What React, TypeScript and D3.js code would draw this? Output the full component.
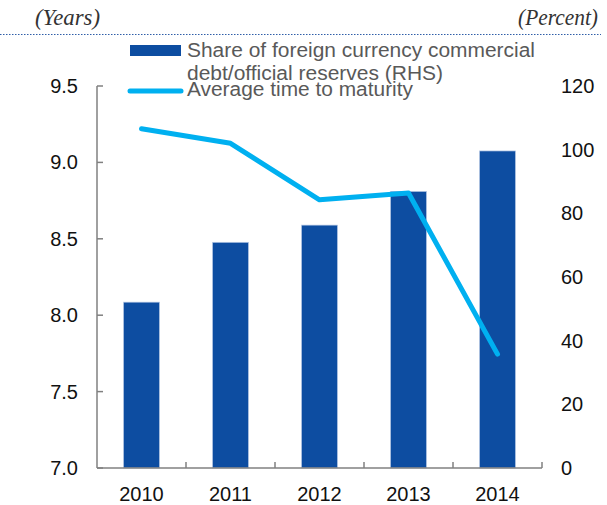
import React from 'react';
import * as d3 from 'd3';

const years = ['2010', '2011', '2012', '2013', '2014'];
const shareReserves = [52.1, 70.9, 76.3, 86.9, 99.6]; // RHS, percent
const avgMaturity = [9.22, 9.125, 8.755, 8.8, 7.745]; // LHS, years
const leftTicks = [7.0, 7.5, 8.0, 8.5, 9.0, 9.5];
const rightTicks = [0, 20, 40, 60, 80, 100, 120];

const width = 607;
const height = 505;
const plot = { left: 97, right: 542, top: 86, bottom: 468 };

export default function App() {
  const x = d3.scaleBand<string>()
    .domain(years)
    .range([plot.left, plot.right])
    .paddingInner(0.595)
    .paddingOuter(0.2975);
  const yLeft = d3.scaleLinear().domain([7, 9.5]).range([plot.bottom, plot.top]);
  const yRight = d3.scaleLinear().domain([0, 120]).range([plot.bottom, plot.top]);
  const step = (plot.right - plot.left) / years.length;

  const line = d3.line<number>()
    .x((_, i) => (x(years[i]) as number) + x.bandwidth() / 2)
    .y(d => yLeft(d));

  const axisColor = '#808080';
  const font = 'Arial, "Liberation Sans", sans-serif';
  const serif = '"Times New Roman", "Liberation Serif", serif';

  return (
    <svg width={width} height={height} style={{ position: 'absolute', left: 0, top: 0 }}>
      <rect width={width} height={height} fill="#fff" />
      <text x={35} y={25} fontFamily={serif} fontStyle="italic" fontSize={24} fill="#333" textLength={65} lengthAdjust="spacingAndGlyphs">(Years)</text>
      <text x={598} y={25} textAnchor="end" fontFamily={serif} fontStyle="italic" fontSize={24} fill="#333" textLength={80} lengthAdjust="spacingAndGlyphs">(Percent)</text>
      <line x1={0} x2={601} y1={34.5} y2={34.5} stroke="#2f5ea8" strokeWidth={1} strokeDasharray="1.5 1.5" />

      {years.map((yr, i) => (
        <rect
          key={yr}
          x={x(yr)}
          y={yRight(shareReserves[i])}
          width={x.bandwidth()}
          height={plot.bottom - yRight(shareReserves[i])}
          fill="#0d4da1"
          stroke="#b9cbe6"
          strokeWidth={0.7}
        />
      ))}

      <path d={line(avgMaturity) || ''} fill="none" stroke="#00b0f0" strokeWidth={5} strokeLinecap="round" strokeLinejoin="round" />

      {/* left axis */}
      <line x1={plot.left} x2={plot.left} y1={plot.top} y2={plot.bottom} stroke={axisColor} strokeWidth={1.5} />
      {leftTicks.map(t => (
        <g key={t}>
          <line x1={plot.left} x2={plot.left + 6} y1={yLeft(t)} y2={yLeft(t)} stroke={axisColor} strokeWidth={1.5} />
          <text x={78} y={yLeft(t) + 7} textAnchor="end" fontFamily={font} fontSize={20} fill="#111">{t.toFixed(1)}</text>
        </g>
      ))}

      {/* right axis labels */}
      {rightTicks.map(t => (
        <text key={t} x={561} y={yRight(t) + 7} fontFamily={font} fontSize={20} fill="#111">{t}</text>
      ))}

      {/* x axis */}
      <line x1={plot.left} x2={plot.right} y1={plot.bottom} y2={plot.bottom} stroke={axisColor} strokeWidth={1.5} />
      {d3.range(1, years.length + 1).map(k => (
        <line key={k} x1={plot.left + step * k} x2={plot.left + step * k} y1={plot.bottom} y2={plot.bottom - 6} stroke={axisColor} strokeWidth={1.5} />
      ))}
      {years.map(yr => (
        <text key={yr} x={(x(yr) as number) + x.bandwidth() / 2} y={501} textAnchor="middle" fontFamily={font} fontSize={20} fill="#111">{yr}</text>
      ))}

      {/* legend */}
      <rect x={130} y={45} width={51} height={11} fill="#0d4da1" />
      <text x={187} y={57} fontFamily={font} fontSize={20} fill="#595959" textLength={348} lengthAdjust="spacingAndGlyphs">Share of foreign currency commercial</text>
      <text x={187} y={80} fontFamily={font} fontSize={20} fill="#595959" textLength={256} lengthAdjust="spacingAndGlyphs">debt/official reserves (RHS)</text>
      <line x1={130} x2={181} y1={91} y2={91} stroke="#00b0f0" strokeWidth={5} strokeLinecap="round" />
      <text x={187} y={96} fontFamily={font} fontSize={20} fill="#595959" textLength={226} lengthAdjust="spacingAndGlyphs">Average time to maturity</text>
    </svg>
  );
}
